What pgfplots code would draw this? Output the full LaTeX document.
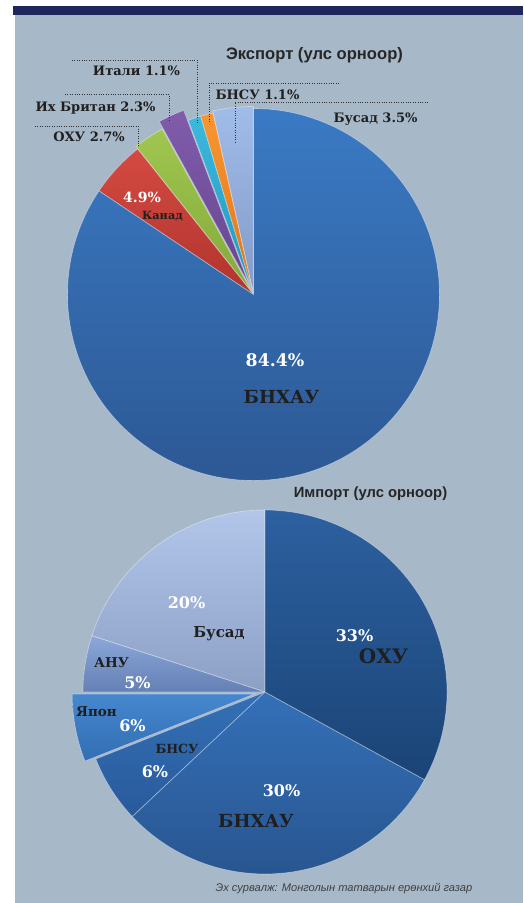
\documentclass[border=0pt]{standalone}
\usepackage{fontspec}
\setmainfont{DejaVu Serif}
\newfontfamily\sansf{Liberation Sans}
\usepackage{pgfplots}
\usepackage{pgfplotstable}
\pgfplotsset{compat=1.18}

\definecolor{bg}{RGB}{167,184,201}
\definecolor{navy}{RGB}{30,38,92}
% export
\definecolor{bnhauT}{RGB}{58,122,196}\definecolor{bnhauB}{RGB}{44,86,145}
\definecolor{kanT}{RGB}{212,74,66}\definecolor{kanB}{RGB}{176,52,46}
\definecolor{ohuT}{RGB}{160,198,80}\definecolor{ohuB}{RGB}{130,170,58}
\definecolor{ihbT}{RGB}{128,92,170}\definecolor{ihbB}{RGB}{104,70,146}
\definecolor{itT}{RGB}{60,185,220}\definecolor{itB}{RGB}{34,150,190}
\definecolor{bnsT}{RGB}{248,150,50}\definecolor{bnsB}{RGB}{225,115,25}
\definecolor{busT}{RGB}{160,188,232}\definecolor{busB}{RGB}{130,155,200}
% import
\definecolor{ohuiT}{RGB}{45,96,160}\definecolor{ohuiB}{RGB}{26,68,118}
\definecolor{bnhiT}{RGB}{52,112,184}\definecolor{bnhiB}{RGB}{40,84,142}
\definecolor{bnsiT}{RGB}{52,112,182}\definecolor{bnsiB}{RGB}{40,90,155}
\definecolor{jpT}{RGB}{70,135,205}\definecolor{jpB}{RGB}{50,110,180}
\definecolor{anuT}{RGB}{140,168,218}\definecolor{anuB}{RGB}{100,128,180}
\definecolor{busiT}{RGB}{178,198,234}\definecolor{busiB}{RGB}{140,160,198}

% shares, counterclockwise from 12 o'clock
\pgfplotstableread{
name      value explode top   bot
Busad     3.5   2       busT  busB
BNSU      1.1   0       bnsT  bnsB
Itali     1.1   0       itT   itB
IhBritan  2.3   11      ihbT  ihbB
OHU       2.7   3       ohuT  ohuB
Kanad     4.9   0       kanT  kanB
BNHAU     84.4  0       bnhauT bnhauB
}\exporttab

\pgfplotstableread{
name      value explode top   bot
Busad     20    0       busiT busiB
ANU       5     0       anuT  anuB
Yapon     6     11      jpT   jpB
BNSU      6     0       bnsiT bnsiB
BNHAU     30    0       bnhiT bnhiB
OHU       33    0       ohuiT ohuiB
}\importtab

% #1 table, #2 radius (pt)
\newcommand{\drawpie}[2]{%
  \pgfplotstablegetrowsof{#1}%
  \pgfmathtruncatemacro\lastrow{\pgfplotsretval-1}%
  \gdef\cum{90}%
  \foreach \i in {0,...,\lastrow}{%
    \pgfplotstablegetelem{\i}{value}\of{#1}\let\val\pgfplotsretval
    \pgfplotstablegetelem{\i}{explode}\of{#1}\let\ex\pgfplotsretval
    \pgfplotstablegetelem{\i}{top}\of{#1}\let\tc\pgfplotsretval
    \pgfplotstablegetelem{\i}{bot}\of{#1}\let\bc\pgfplotsretval
    \pgfmathsetmacro\sa{\cum}%
    \pgfmathsetmacro\sb{\cum+3.6*\val}%
    \pgfmathsetmacro\sm{(\sa+\sb)/2}%
    \pgfmathsetmacro\cx{\ex/#2*cos(\sm)}%
    \pgfmathsetmacro\cy{\ex/#2*sin(\sm)}%
    \shadedraw[top color=\tc, bottom color=\bc, draw=white, draw opacity=0.4, line width=0.7pt]
      (axis cs:\cx,\cy) -- ++(\sa:#2pt) arc[start angle=\sa, end angle=\sb, radius=#2pt] -- cycle;
    \xdef\cum{\sb}%
  }%
}

\newcommand\lf[1]{\fontsize{#1}{#1}\selectfont\bfseries}
\tikzset{
  wl/.style={anchor=base, white},
  bl/.style={anchor=base, black!88},
  lead/.style={black!80, line width=0.8pt, dash pattern=on 0.8pt off 1.6pt},
}

\begin{document}
\begin{tikzpicture}[x=1pt, y=-1pt]
  \fill[white] (0,0) rectangle (523,903);
  \fill[bg] (14.5,14) rectangle (523,903);
  \fill[navy] (13,6) rectangle (523,14.5);

  % export pie
  \begin{axis}[at={(253.5pt,-294.5pt)}, anchor=center, scale only axis,
      width=372pt, height=372pt, xmin=-1, xmax=1, ymin=-1, ymax=1,
      hide axis, clip=false]
    \addplot[draw=none, forget plot] coordinates {(0,0)};
    \pgfplotsextra{\drawpie{\exporttab}{186}}
  \end{axis}

  % import pie
  \begin{axis}[at={(265pt,-692pt)}, anchor=center, scale only axis,
      width=364pt, height=364pt, xmin=-1, xmax=1, ymin=-1, ymax=1,
      hide axis, clip=false]
    \addplot[draw=none, forget plot] coordinates {(0,0)};
    \pgfplotsextra{\drawpie{\importtab}{182}}
  \end{axis}

  % titles
  \node[anchor=base, black!85, font=\sansf\bfseries\fontsize{16.6}{16.6}\selectfont] at (314.5,59) {Экспорт (улс орноор)};
  \node[anchor=base, black!85, font=\sansf\bfseries\fontsize{14.8}{14.8}\selectfont] at (370.5,497) {Импорт (улс орноор)};

  % export leaders
  \draw[lead] (72,60) -- (197,60) -- (197,123);
  \draw[lead] (339,83) -- (209,83) -- (209,123);
  \draw[lead] (65,94) -- (169,94) -- (169,122);
  \draw[lead] (35,126) -- (138,126) -- (138,147);
  \draw[lead] (428,102) -- (235,102) -- (235,142);

  % export labels
  \node[bl, font=\lf{13}] at (136.5,75) {Итали 1.1\%};
  \node[bl, font=\lf{13}] at (257.5,99.5) {БНСУ 1.1\%};
  \node[bl, font=\lf{13}] at (375.5,122.5) {Бусад 3.5\%};
  \node[bl, font=\lf{13}] at (95.5,111) {Их Британ 2.3\%};
  \node[bl, font=\lf{13}] at (89,141.5) {ОХУ 2.7\%};
  \node[wl, font=\lf{14}] at (142,202.5) {4.9\%};
  \node[bl, font=\lf{11.3}] at (162.5,219) {Канад};
  \node[wl, font=\lf{17.3}] at (275,366.5) {84.4\%};
  \node[bl, font=\lf{18}] at (281.5,403) {БНХАУ};

  % import labels
  \node[wl, font=\lf{16}] at (186.5,608) {20\%};
  \node[bl, font=\lf{15}] at (219,637) {Бусад};
  \node[wl, font=\lf{16}] at (354.5,641) {33\%};
  \node[bl, font=\lf{20}] at (383.5,663) {ОХУ};
  \node[bl, font=\lf{13.5}] at (111.5,667) {АНУ};
  \node[wl, font=\lf{16}] at (137.5,688) {5\%};
  \node[bl, font=\lf{13.5}] at (96.5,716) {Япон};
  \node[wl, font=\lf{16}] at (132.5,731.5) {6\%};
  \node[bl, font=\lf{12.6}] at (177,753) {БНСУ};
  \node[wl, font=\lf{16}] at (155,777.5) {6\%};
  \node[wl, font=\lf{16}] at (281.5,796.5) {30\%};
  \node[bl, font=\lf{18}] at (256,827) {БНХАУ};

  % source
  \node[anchor=base, black!75, font=\sansf\itshape\fontsize{11.1}{11.1}\selectfont] at (344,891) {Эх сурвалж: Монголын татварын ерөнхий газар};
\end{tikzpicture}
\end{document}
